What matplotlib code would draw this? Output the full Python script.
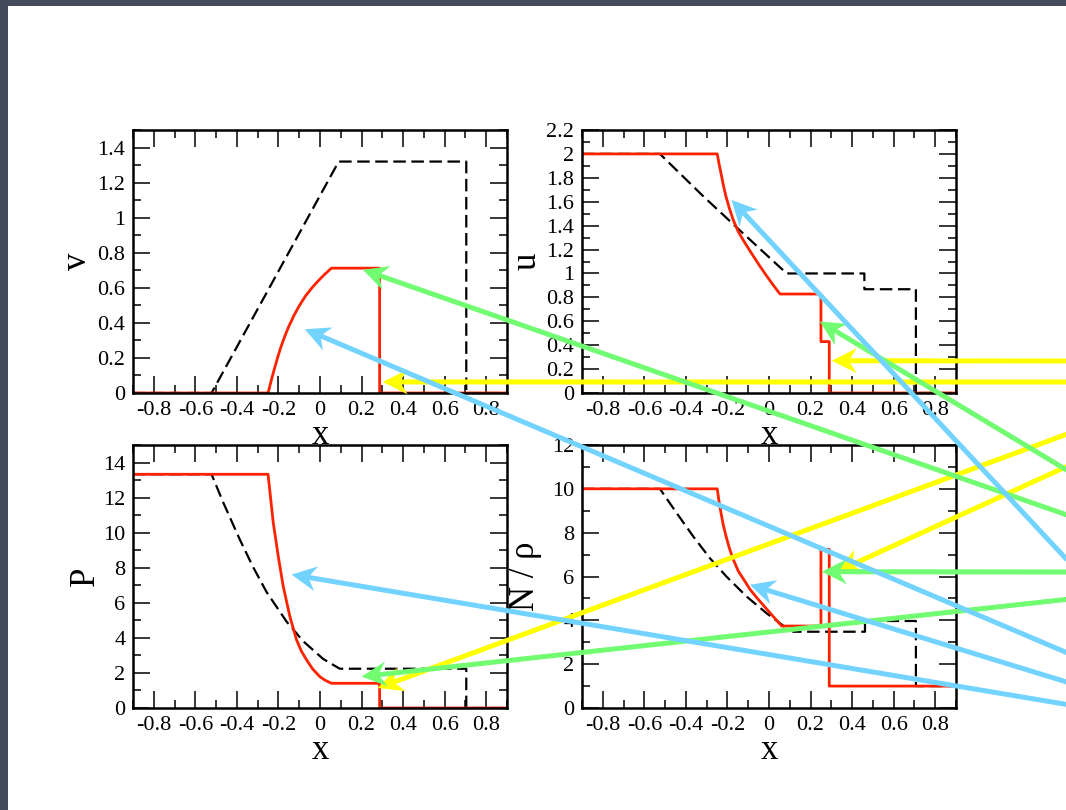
import numpy as np
import matplotlib
matplotlib.use("Agg")
import matplotlib.pyplot as plt
from matplotlib.ticker import MultipleLocator, FuncFormatter
from matplotlib.patches import Rectangle, Polygon
from matplotlib.lines import Line2D
from matplotlib.transforms import IdentityTransform

plt.rcParams["font.family"] = ["Liberation Serif", "DejaVu Serif"]
plt.rcParams["axes.unicode_minus"] = False
plt.rcParams["lines.scale_dashes"] = False

W, H = 1066, 810

# velocity v
v_x_newt = [-0.9, -0.522, 0.09, 0.704, 0.704, 0.9]
v_newt = [0, 0, 1.32, 1.32, 0, 0]
v_x_rel = [-0.9, -0.25, -0.235, -0.22, -0.205, -0.19, -0.17, -0.15, -0.125, -0.1,
           -0.07, -0.04, -0.01, 0.02, 0.055, 0.287, 0.287, 0.9]
v_rel = [0, 0, 0.07, 0.136, 0.198, 0.256, 0.322, 0.38, 0.443, 0.497,
         0.553, 0.598, 0.638, 0.674, 0.712, 0.712, 0, 0]

# u
u_x_newt = [-0.9, -0.525, -0.316, -0.14, 0.085, 0.459, 0.459, 0.707, 0.707, 0.9]
u_newt = [2, 2, 1.645, 1.36, 1.0, 1.0, 0.868, 0.868, 0, 0]
u_x_rel = [-0.9, -0.249, -0.241, -0.231, -0.220, -0.207, -0.191, -0.172, -0.148, -0.120,
           -0.092, -0.056, -0.019, 0.018, 0.053, 0.25, 0.25, 0.29, 0.29, 0.9]
u_rel = [2, 2, 1.922, 1.838, 1.741, 1.643, 1.546, 1.448, 1.350, 1.267,
         1.19, 1.093, 0.998, 0.908, 0.828, 0.828, 0.43, 0.43, 0, 0]

# pressure P
p_x_newt = [-0.9, -0.522, -0.466, -0.386, -0.322, -0.257, -0.161, -0.081, 0.015, 0.095,
            0.704, 0.704, 0.9]
p_newt = [13.33, 13.33, 11.73, 9.61, 8.04, 6.61, 4.93, 3.81, 2.80, 2.24, 2.24, 0, 0]
p_x_rel = [-0.9, -0.25, -0.225, -0.201, -0.177, -0.145, -0.113, -0.09, -0.065, -0.035,
           -0.001, 0.025, 0.055, 0.287, 0.287, 0.9]
p_rel = [13.33, 13.33, 10.57, 8.66, 6.94, 5.22, 3.89, 3.25, 2.75, 2.22,
         1.79, 1.58, 1.41, 1.41, 0, 0]

# density N / rho
n_x_newt = [-0.9, -0.525, -0.444, -0.364, -0.284, -0.204, -0.107, -0.011, 0.085, 0.117,
            0.462, 0.462, 0.707, 0.707, 0.9]
n_newt = [10, 10, 8.89, 7.82, 6.83, 5.99, 5.08, 4.32, 3.64, 3.48, 3.48, 3.97, 3.97, 1.0, 1.0]
n_x_rel = [-0.9, -0.249, -0.241, -0.231, -0.220, -0.207, -0.191, -0.172, -0.148, -0.120,
           -0.092, -0.056, -0.019, 0.018, 0.061, 0.25, 0.25, 0.29, 0.29, 0.9]
n_rel = [10, 10, 9.45, 8.9, 8.35, 7.85, 7.3, 6.78, 6.25, 5.84,
         5.42, 5.0, 4.6, 4.2, 3.74, 3.74, 7.24, 7.24, 1.0, 1.0]

# arrows: panel index, tip in data coords, tail height at right edge (px from top)
arrow_panel = [0, 1, 2, 3, 0, 1, 3, 2, 0, 1, 2, 3]
arrow_tip_x = [0.302, 0.302, 0.278, 0.326, 0.206, 0.245, 0.254, 0.20, -0.073, -0.18, -0.137, -0.092]
arrow_tip_y = [0.063, 0.27, 1.14, 6.22, 0.703, 0.597, 6.22, 1.79, 0.364, 1.615, 7.61, 5.62]
arrow_tail_y = [382, 361, 433, 465, 516, 472, 572, 599, 654, 563, 705, 683]
arrow_color = ["#ffff00"] * 4 + ["#72fc72"] * 4 + ["#73d3ff"] * 4

fig = plt.figure(figsize=(W / 100, H / 100), dpi=100)
fig.patch.set_facecolor("#434a5a")
fig.add_artist(Rectangle((8 / W, 0), 1, 804 / H, transform=fig.transFigure,
                         facecolor="white", edgecolor="none", zorder=-10))


def pixel_axes(left, top, right, bottom):
    return fig.add_axes([left / W, (H - bottom) / H, (right - left) / W, (bottom - top) / H])


def fmt(v, pos):
    return f"{round(v, 6) + 0:g}"


def setup(ax, ylim, ymaj, ymin, ylabel, ylab_x):
    ax.set_xlim(-0.9, 0.9)
    ax.set_ylim(*ylim)
    ax.xaxis.set_major_locator(MultipleLocator(0.2))
    ax.xaxis.set_minor_locator(MultipleLocator(0.1))
    ax.yaxis.set_major_locator(MultipleLocator(ymaj))
    ax.yaxis.set_minor_locator(MultipleLocator(ymin))
    ax.xaxis.set_major_formatter(FuncFormatter(fmt))
    ax.yaxis.set_major_formatter(FuncFormatter(fmt))
    ax.tick_params(which="both", direction="in", top=True, right=True, labelsize=16, pad=5.5)
    ax.tick_params(which="major", length=12, width=1.1)
    ax.tick_params(which="minor", length=6, width=1.1)
    for s in ax.spines.values():
        s.set_linewidth(1.8)
    ax.set_xlabel("x", fontsize=25)
    ax.xaxis.set_label_coords(0.5, -0.097)
    ax.set_ylabel(ylabel, fontsize=25)
    ax.yaxis.set_label_coords(ylab_x, 0.5)


ax_v = pixel_axes(133, 130, 507, 393)
ax_u = pixel_axes(582, 130, 956, 393)
ax_p = pixel_axes(133, 445, 507, 708)
ax_n = pixel_axes(582, 445, 956, 708)
axes = [ax_v, ax_u, ax_p, ax_n]

setup(ax_v, (0, 1.5), 0.2, 0.1, "v", -0.104)
setup(ax_u, (0, 2.2), 0.2, 0.1, "u", -0.102)
setup(ax_p, (0, 15), 2, 1, "P", -0.083)
setup(ax_n, (0, 12), 2, 1, "N / ρ", -0.107)

curves = [(v_x_newt, v_newt, v_x_rel, v_rel),
          (u_x_newt, u_newt, u_x_rel, u_rel),
          (p_x_newt, p_newt, p_x_rel, p_rel),
          (n_x_newt, n_newt, n_x_rel, n_rel)]
for ax, (xn, yn, xr, yr) in zip(axes, curves):
    ax.plot(xn, yn, color="black", lw=1.6, dashes=(9, 4))
    ax.plot(xr, yr, color="#ff2200", lw=2.0, solid_joinstyle="round")

# pointer arrows coming in from the right edge, drawn in display pixels
L_HEAD, W_HEAD, NOTCH = 25.0, 12.5, 17.0
for i in range(len(arrow_panel)):
    ax = axes[arrow_panel[i]]
    tip = np.array(ax.transData.transform((arrow_tip_x[i], arrow_tip_y[i])))
    tail = np.array([W + 4, H - arrow_tail_y[i]])
    d = tail - tip
    d = d / np.hypot(*d)
    p = np.array([-d[1], d[0]])
    head = [tip, tip + d * L_HEAD + p * W_HEAD, tip + d * NOTCH, tip + d * L_HEAD - p * W_HEAD]
    start = tip + d * (NOTCH - 1)
    fig.add_artist(Line2D([start[0], tail[0]], [start[1], tail[1]], color=arrow_color[i],
                          lw=3.6, solid_capstyle="butt", transform=IdentityTransform(), zorder=5))
    fig.add_artist(Polygon(head, closed=True, facecolor=arrow_color[i], edgecolor="none",
                           transform=IdentityTransform(), zorder=5))

fig.savefig("out.png", dpi=100)
